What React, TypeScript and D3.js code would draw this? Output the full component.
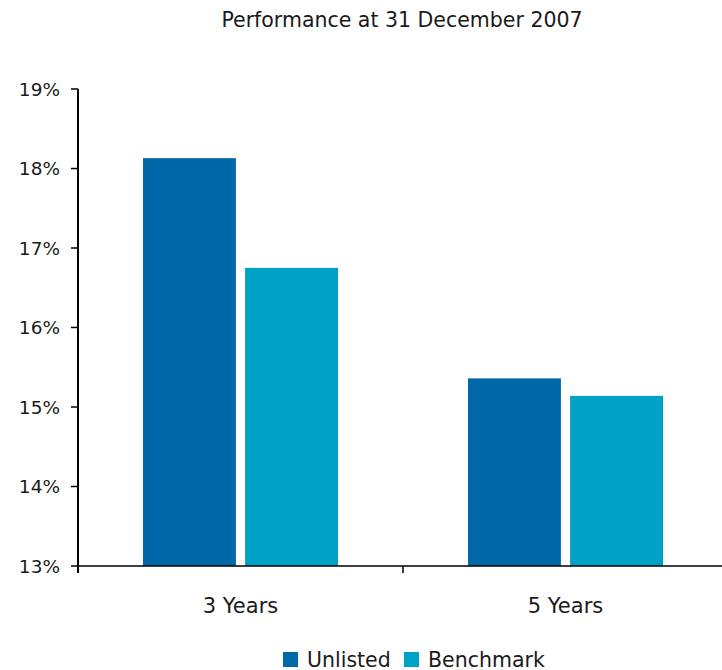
import React from "react";
import * as d3 from "d3";

const categories = ["3 Years", "5 Years"];
const seriesNames = ["Unlisted", "Benchmark"];
const unlisted = [18.13, 15.36];
const benchmark = [16.75, 15.14];
const yTicks = [13, 14, 15, 16, 17, 18, 19];
const colors = ["#0067a8", "#00a1c7"];

const W = 722;
const H = 670;
const FONT = "'DejaVu Sans', Verdana, sans-serif";

export default function App() {
  const left = 78;
  const top = 89;
  const bottom = 566;
  const right = 728;

  const y = d3.scaleLinear().domain([13, 19]).range([bottom, top]);
  const x0 = d3.scaleBand<string>().domain(categories).range([left, right]).paddingInner(0).paddingOuter(0);
  const groupPad = 65;
  const x1 = d3
    .scaleBand<string>()
    .domain(seriesNames)
    .range([groupPad, x0.step() - groupPad])
    .paddingInner(0.09);

  const values = [unlisted, benchmark];

  return (
    <svg width={W} height={H} style={{ position: "absolute", left: 0, top: 0, background: "#fff" }}>
      <text x={402} y={27} textAnchor="middle" fontFamily={FONT} fontSize={20.5} fill="#1a1a1a">
        Performance at 31 December 2007
      </text>

      {categories.map((c, ci) =>
        seriesNames.map((s, si) => {
          const v = values[si][ci];
          return (
            <rect
              key={c + s}
              x={(x0(c) ?? 0) + (x1(s) ?? 0)}
              y={y(v)}
              width={x1.bandwidth()}
              height={bottom - y(v)}
              fill={colors[si]}
            />
          );
        })
      )}

      {/* y axis */}
      <line x1={left} x2={left} y1={top} y2={bottom + 7} stroke="#000" strokeWidth={2} />
      {yTicks.map((t) => (
        <g key={t}>
          <line x1={left - 7} x2={left} y1={y(t)} y2={y(t)} stroke="#000" strokeWidth={1.5} />
          <text
            x={left - 18}
            y={y(t)}
            dy="0.36em"
            textAnchor="end"
            fontFamily={FONT}
            fontSize={18.5}
            fill="#1a1a1a"
          >
            {t}%
          </text>
        </g>
      ))}

      {/* x axis */}
      <line x1={left} x2={W} y1={bottom} y2={bottom} stroke="#000" strokeWidth={1.5} />
      {categories.slice(1).map((c) => (
        <line key={c} x1={x0(c) ?? 0} x2={x0(c) ?? 0} y1={bottom} y2={bottom + 7} stroke="#000" strokeWidth={1.5} />
      ))}
      {categories.map((c) => (
        <text
          key={c}
          x={(x0(c) ?? 0) + x0.bandwidth() / 2}
          y={613}
          textAnchor="middle"
          fontFamily={FONT}
          fontSize={21}
          fill="#1a1a1a"
        >
          {c}
        </text>
      ))}

      {/* legend */}
      {seriesNames.map((s, i) => {
        const lx = [283, 404][i];
        return (
          <g key={s}>
            <rect x={lx} y={652} width={15} height={15} fill={colors[i]} />
            <text x={lx + 24} y={667} fontFamily={FONT} fontSize={20.5} fill="#1a1a1a">
              {s}
            </text>
          </g>
        );
      })}
    </svg>
  );
}
